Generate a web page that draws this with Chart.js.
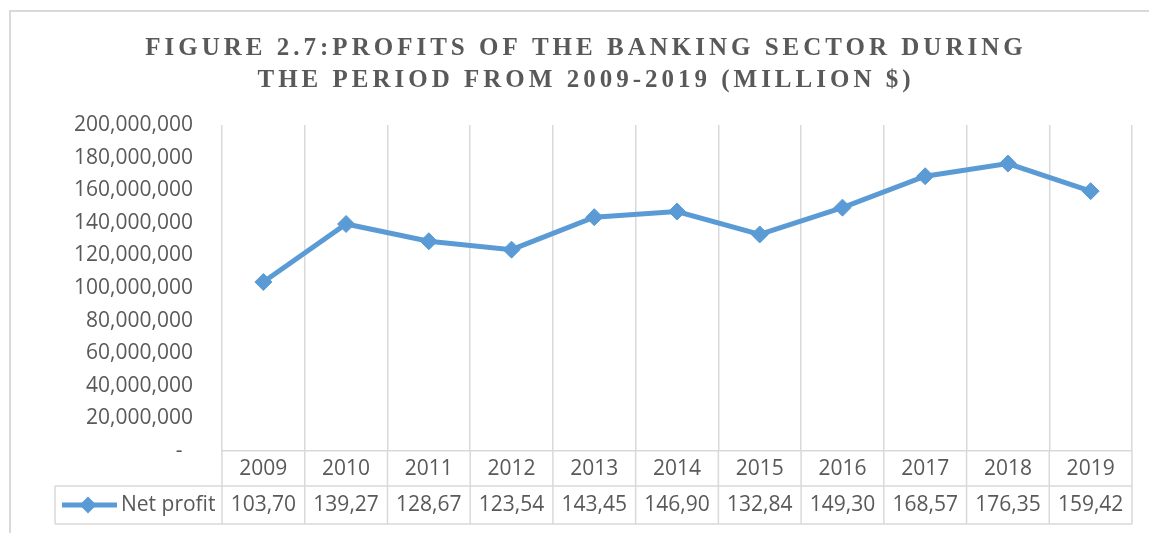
<!DOCTYPE html>
<html>
<head>
<meta charset="utf-8">
<script src="https://cdn.jsdelivr.net/npm/chart.js@4.4.1/dist/chart.umd.min.js"></script>
<style>
  html, body { margin: 0; padding: 0; background: #ffffff; }
  #wrap { position: relative; width: 1149px; height: 533px; }
  canvas { display: block; }
</style>
</head>
<body>
<div id="wrap"><canvas id="c" width="1149" height="533"></canvas></div>
<script>
// ---- data ----
const titleLines = ['FIGURE 2.7:PROFITS OF THE BANKING SECTOR DURING', 'THE PERIOD FROM 2009-2019 (MILLION $)'];
const years = ['2009', '2010', '2011', '2012', '2013', '2014', '2015', '2016', '2017', '2018', '2019'];
const seriesName = 'Net profit';
const netProfit = [103700000, 139270000, 128670000, 123540000, 143450000, 146900000, 132840000, 149300000, 168570000, 176350000, 159420000];
const tableLabels = ['103,70', '139,27', '128,67', '123,54', '143,45', '146,90', '132,84', '149,30', '168,57', '176,35', '159,42'];
const yTicks = [0, 20000000, 40000000, 60000000, 80000000, 100000000, 120000000, 140000000, 160000000, 180000000, 200000000];

const TEXT = '#595959';
const GRID = '#d9d9d9';
const BLUE = '#5b9bd5';
const FONT = '"Open Sans", "Noto Sans", sans-serif';

const decorPlugin = {
  id: 'decor',
  beforeDraw(chart) {
    const ctx = chart.ctx;
    ctx.save();
    ctx.fillStyle = '#ffffff';
    ctx.fillRect(0, 0, chart.width, chart.height);
    // outer chart border
    ctx.strokeStyle = GRID;
    ctx.lineWidth = 2;
    ctx.beginPath();
    ctx.moveTo(10, chart.height + 5);
    ctx.lineTo(10, 11);
    ctx.lineTo(chart.width + 5, 11);
    ctx.stroke();
    // title
    ctx.fillStyle = TEXT;
    ctx.font = 'bold 25px "Liberation Serif", "Times New Roman", serif';
    ctx.textAlign = 'center';
    ctx.textBaseline = 'alphabetic';
    try { ctx.letterSpacing = '4px'; } catch (e) {}
    ctx.fillText(titleLines[0], 586, 54.5);
    ctx.fillText(titleLines[1], 586, 86.5);
    try { ctx.letterSpacing = '0px'; } catch (e) {}
    ctx.restore();
  },
  afterDraw(chart) {
    const ctx = chart.ctx;
    const x = chart.scales.x;
    const area = chart.chartArea;
    const n = years.length;
    const colW = (area.right - area.left) / n;
    const rowTop = area.bottom;
    const row2Top = 486;
    const tableBottom = 524;
    const legendLeft = 55;
    ctx.save();
    ctx.strokeStyle = GRID;
    ctx.lineWidth = 1.5;
    ctx.beginPath();
    // column separators through the data table
    for (let i = 0; i <= n; i++) {
      const px = x.getPixelForValue(0) - colW / 2 + i * colW;
      ctx.moveTo(px, rowTop);
      ctx.lineTo(px, tableBottom);
    }
    ctx.moveTo(legendLeft, row2Top);
    ctx.lineTo(legendLeft, tableBottom);
    ctx.moveTo(legendLeft, row2Top);
    ctx.lineTo(area.right, row2Top);
    ctx.moveTo(legendLeft, tableBottom);
    ctx.lineTo(area.right, tableBottom);
    ctx.stroke();

    // legend key
    const ly = (row2Top + tableBottom) / 2;
    ctx.strokeStyle = BLUE;
    ctx.lineWidth = 5;
    ctx.beginPath();
    ctx.moveTo(62, ly);
    ctx.lineTo(117, ly);
    ctx.stroke();
    ctx.fillStyle = BLUE;
    ctx.beginPath();
    ctx.moveTo(88, ly - 8.5);
    ctx.lineTo(96.5, ly);
    ctx.lineTo(88, ly + 8.5);
    ctx.lineTo(79.5, ly);
    ctx.closePath();
    ctx.fill();

    ctx.fillStyle = TEXT;
    ctx.font = '21px ' + FONT;
    ctx.textBaseline = 'middle';
    ctx.textAlign = 'left';
    ctx.fillText(seriesName, 121, ly);
    ctx.textAlign = 'center';
    for (let i = 0; i < n; i++) {
      ctx.fillText(tableLabels[i], x.getPixelForValue(i), ly);
    }
    ctx.restore();
  }
};

new Chart(document.getElementById('c'), {
  type: 'line',
  data: {
    labels: years,
    datasets: [{
      label: seriesName,
      data: netProfit,
      borderColor: BLUE,
      backgroundColor: BLUE,
      borderWidth: 5,
      tension: 0,
      pointStyle: 'rectRot',
      pointRadius: 8.5,
      pointBorderWidth: 1,
      pointBackgroundColor: BLUE,
      pointBorderColor: BLUE,
      clip: false
    }]
  },
  options: {
    responsive: false,
    animation: false,
    devicePixelRatio: 1,
    layout: { padding: { left: 0, right: 17, top: 125, bottom: 48 } },
    plugins: {
      legend: { display: false },
      title: { display: false },
      tooltip: { enabled: false }
    },
    scales: {
      x: {
        type: 'category',
        offset: true,
        grid: { display: true, offset: true, color: GRID, lineWidth: 1.5, drawTicks: false },
        border: { display: true, color: GRID, width: 1.5 },
        ticks: { color: TEXT, font: { family: FONT, size: 21 }, padding: 5, maxRotation: 0, autoSkip: false },
        afterFit(scale) { scale.height = 34; }
      },
      y: {
        min: 0,
        max: 200000000,
        afterBuildTicks(scale) { scale.ticks = yTicks.map(v => ({ value: v })); },
        grid: { display: false, drawTicks: false },
        border: { display: false },
        ticks: {
          color: TEXT,
          font: { family: FONT, size: 21 },
          padding: 29,
          callback: v => v === 0 ? '-\u2002' : Number(v).toLocaleString('en-US')
        },
        afterFit(scale) { scale.width = 222; }
      }
    }
  },
  plugins: [decorPlugin]
});
</script>
</body>
</html>
